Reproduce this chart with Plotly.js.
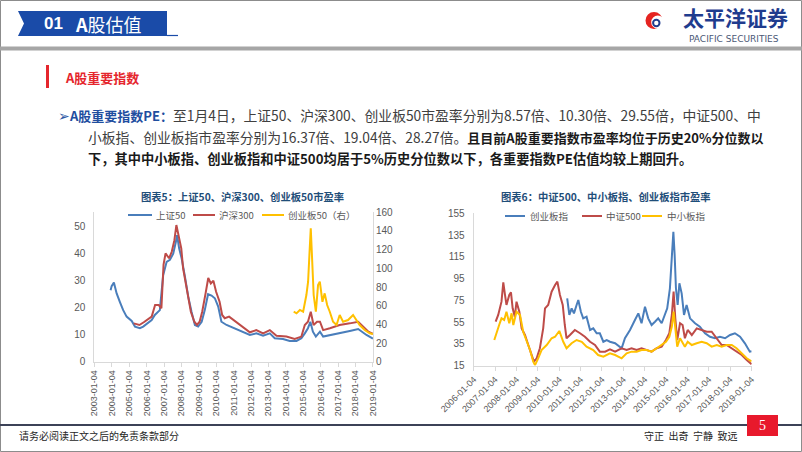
<!DOCTYPE html>
<html><head><meta charset="utf-8">
<script src="https://cdn.plot.ly/plotly-3.0.1.min.js"></script>
<style>html,body{margin:0;padding:0;background:#fff;overflow:hidden}</style>
</head><body><div id="chart" style="width:802px;height:452px"></div>
<script>
// ---------- Chart 5 data ----------
const sz50Dates = ['2003-12-10','2004-01-01','2004-02-17','2004-04-15','2004-06-25','2004-08-30','2004-11-10','2005-02-25','2005-05-05','2005-08-15','2005-10-24','2006-01-01','2006-04-20','2006-06-25','2006-10-08','2006-12-17','2007-02-28','2007-05-08','2007-07-16','2007-09-10','2007-10-05','2007-11-17','2008-01-08','2008-03-18','2008-05-27','2008-08-03','2008-10-13','2008-12-20','2009-03-04','2009-05-08','2009-07-16','2009-09-27','2009-12-05','2010-02-14','2010-04-22','2010-08-08','2010-12-25','2011-05-10','2011-12-10','2012-04-25','2012-09-12','2013-02-01','2013-05-15','2013-11-05','2014-03-25','2014-08-15','2014-11-25','2015-02-05','2015-04-12','2015-06-02','2015-07-25','2015-09-25','2015-12-20','2016-02-25','2016-07-15','2017-02-05','2017-09-06','2018-03-01','2018-05-08','2018-08-22','2019-01-04'];
const sz50PE = [26.5,28.0,29.3,25.3,22.0,19.1,16.7,15.1,13.0,12.4,13.0,13.8,15.4,17.3,19.1,32.0,37.0,37.7,40.0,44.4,46.9,42.0,38.3,31.5,24.0,18.5,13.6,13.0,14.8,19.1,25.0,24.5,23.5,20.4,14.8,13.6,12.6,11.7,9.9,10.5,9.6,10.5,8.7,8.4,7.7,7.7,8.7,10.5,12.4,14.8,11.1,9.3,11.1,9.3,9.9,10.5,11.4,12.1,11.1,9.9,8.57];

const hs300Dates = ['2005-04-08','2005-08-05','2005-11-05','2006-02-05','2006-04-20','2006-07-01','2006-09-15','2006-11-10','2006-12-25','2007-02-05','2007-04-20','2007-06-15','2007-08-10','2007-09-20','2007-10-12','2007-11-25','2008-01-01','2008-02-08','2008-04-01','2008-05-25','2008-07-20','2008-10-01','2008-11-25','2009-01-20','2009-03-15','2009-05-25','2009-07-20','2009-09-12','2009-11-05','2010-01-01','2010-03-15','2010-05-08','2010-07-01','2010-10-01','2011-01-01','2011-05-10','2011-12-10','2012-04-25','2012-09-12','2013-02-01','2013-06-20','2014-01-15','2014-07-08','2014-11-25','2015-02-05','2015-04-12','2015-06-10','2015-08-08','2015-10-20','2015-12-20','2016-02-25','2016-07-15','2017-02-05','2017-09-06','2018-03-01','2018-06-15','2018-10-01','2019-01-04'];
const hs300PE = [14.2,13.6,14.6,15.6,16.7,21.0,21.0,19.8,36.0,40.1,38.3,40.7,45.0,50.6,48.8,44.4,42.0,34.6,29.6,23.5,18.5,14.8,13.6,14.8,18.5,25.3,31.0,29.0,30.0,25.9,22.2,17.3,16.1,16.7,15.4,13.6,10.9,11.7,10.5,11.7,9.6,9.3,8.4,9.3,13.6,14.8,18.5,13.6,14.8,14.8,11.7,12.4,13.6,14.2,14.8,13.0,11.1,10.30];

const cyb50Dates = ['2014-06-17','2014-08-15','2014-10-24','2015-01-01','2015-03-10','2015-04-15','2015-05-19','2015-06-10','2015-07-05','2015-08-10','2015-09-25','2015-11-10','2015-12-17','2016-02-10','2016-03-28','2016-05-19','2016-07-13','2016-09-20','2016-12-02','2017-02-06','2017-04-18','2017-07-31','2017-11-14','2018-01-23','2018-04-01','2018-07-16','2018-10-30','2019-01-04'];
const cyb50PE = [53.5,51.8,55.4,53.5,71.4,85.7,121,142.8,114,71.4,53.5,82,85.7,64.2,73.2,60.7,53.5,42.8,39.3,50,42.8,44.6,50,44.6,39.3,33.9,30.4,29.55];

// ---------- Chart 6 data ----------
const cybzDates = ['2010-05-19','2010-06-25','2010-08-03','2010-09-12','2010-10-27','2010-11-25','2011-01-08','2011-02-17','2011-04-15','2011-06-14','2011-08-08','2011-10-05','2011-11-28','2012-01-27','2012-03-25','2012-05-19','2012-08-15','2012-12-05','2013-01-30','2013-04-27','2013-07-20','2013-09-16','2013-11-10','2014-01-08','2014-03-04','2014-05-01','2014-06-28','2014-08-22','2014-10-20','2014-12-17','2015-01-23','2015-03-10','2015-04-12','2015-05-08','2015-05-30','2015-06-21','2015-07-20','2015-08-19','2015-09-27','2015-11-06','2015-12-20','2016-02-17','2016-05-12','2016-08-03','2016-10-30','2017-01-23','2017-04-18','2017-07-13','2017-10-08','2018-01-01','2018-03-25','2018-06-21','2018-09-12','2018-12-05','2019-01-04'];
const cybzPE = [76.9,61.6,67.7,63.1,70.8,75.4,64.6,58.5,60,47.8,49.3,44.8,44.8,37,38.6,37,35.6,31,40.2,47.8,57,63.1,54,69.2,58.5,52.4,55.4,58.5,54,61.6,67.7,86.1,116.7,138,116.7,86.1,70.8,90.7,81.5,61.6,70.8,58.5,54,50.9,44.8,41.6,40.2,41.6,40.2,43.2,44.8,41.6,35.6,27.9,28.27];

const zz500Dates = ['2007-01-12','2007-02-25','2007-04-22','2007-05-23','2007-06-21','2007-07-16','2007-09-02','2007-10-01','2007-10-30','2007-12-05','2008-01-04','2008-02-21','2008-04-01','2008-05-27','2008-07-23','2008-09-20','2008-10-27','2008-12-13','2009-02-06','2009-04-04','2009-05-05','2009-06-28','2009-08-26','2009-10-24','2009-12-02','2010-01-15','2010-03-04','2010-04-08','2010-05-08','2010-07-05','2010-09-27','2010-12-25','2011-03-18','2011-06-14','2011-09-06','2011-11-28','2012-02-25','2012-05-19','2012-08-15','2012-12-05','2013-02-28','2013-05-23','2013-08-19','2013-11-10','2014-02-06','2014-05-01','2014-07-27','2014-10-20','2015-01-01','2015-02-28','2015-04-12','2015-05-12','2015-06-10','2015-07-13','2015-08-30','2015-10-13','2015-11-21','2016-01-08','2016-03-18','2016-06-10','2016-09-02','2016-11-28','2017-02-21','2017-05-19','2017-08-11','2017-11-03','2018-01-30','2018-04-22','2018-07-20','2018-10-13','2019-01-04'];
const zz500PE = [55.4,61.6,73.8,91.6,80,70.8,80,82.4,67.7,60,73.8,64.6,49.3,43.2,34,23.3,18.7,21.8,31,49.3,67.7,70.8,83,89.1,92.2,80,70.8,52.4,40.2,43.2,47.8,44.8,41.6,37,34,27.9,27.9,30,27.9,31,29.4,31,29.4,31,29.4,27.9,31,32.5,38.6,44.8,61.6,83,58.5,38.6,54,52.4,40.2,47.8,43.2,49.3,47.8,46.2,46.2,40.2,34,34,31,27.9,24.8,20.2,16.37];

const zxbDates = ['2006-12-20','2007-01-30','2007-03-13','2007-04-22','2007-06-07','2007-07-16','2007-09-02','2007-10-12','2007-11-10','2008-01-04','2008-03-04','2008-04-27','2008-06-25','2008-08-22','2008-10-16','2008-11-15','2009-01-08','2009-03-07','2009-06-03','2009-08-26','2009-10-24','2010-01-04','2010-03-13','2010-05-08','2010-08-03','2010-10-27','2011-01-23','2011-04-15','2011-08-08','2011-10-30','2012-01-27','2012-05-19','2012-08-15','2012-12-05','2013-02-28','2013-05-23','2013-08-19','2013-11-10','2014-02-06','2014-05-01','2014-07-27','2014-10-20','2015-01-01','2015-02-28','2015-04-12','2015-05-12','2015-06-10','2015-07-13','2015-08-30','2015-10-13','2015-11-21','2016-01-08','2016-03-18','2016-06-10','2016-09-02','2016-11-28','2017-02-21','2017-05-19','2017-08-11','2017-11-03','2018-01-30','2018-04-22','2018-07-20','2018-10-13','2019-01-04'];
const zxbPE = [38.6,46.2,52.4,58.5,57,64.6,54,63.1,52.4,64.6,61.6,46.2,38.6,29.4,18.7,15.6,21.8,29.4,34,40.2,41.6,46.9,37,31,35.6,38.6,37,32.5,29.4,24.8,23.3,26.3,24.8,21.8,26.3,27.9,27.9,29.4,29.4,27.9,31,34,37,41.6,50.9,64.6,49.3,32.5,40.2,35.6,32.5,37,34,35.6,37,35.6,32.5,34,32.5,34,34,31,26.3,21.8,19.04];

// ---------- series names and tick labels ----------
const names5 = ['上证50', '沪深300', '创业板50（右）'];
const names6 = ['创业板指', '中证500', '中小板指'];
const ticks5 = ['2003-01-04','2004-01-04','2005-01-04','2006-01-04','2007-01-04','2008-01-04','2009-01-04','2010-01-04','2011-01-04','2012-01-04','2013-01-04','2014-01-04','2015-01-04','2016-01-04','2017-01-04','2018-01-04','2019-01-04'];
const ticks6 = ['2006-01-04','2007-01-04','2008-01-04','2009-01-04','2010-01-04','2011-01-04','2012-01-04','2013-01-04','2014-01-04','2015-01-04','2016-01-04','2017-01-04','2018-01-04','2019-01-04'];
const leftTicks5 = [0,10,20,30,40,50];
const rightTicks5 = [0,20,40,60,80,100,120,140,160];
const ticks6y = [15,35,55,75,95,115,135,155];

// ---------- helpers for slide positioning ----------
const W = 802, H = 452;
const X = p => p / W;
const Y = p => 1 - p / H;
const BLUE = '#4A7EBB', RED = '#BE4B48', GOLD = '#FFC000';
const CJK = '"Noto Sans CJK SC", "Microsoft YaHei", sans-serif';
const LAT = '"Liberation Sans", Arial, sans-serif';

const traces = [
  {x: sz50Dates, y: sz50PE, name: names5[0], type: 'scatter', mode: 'lines', line: {color: BLUE, width: 2}, xaxis: 'x', yaxis: 'y'},
  {x: hs300Dates, y: hs300PE, name: names5[1], type: 'scatter', mode: 'lines', line: {color: RED, width: 2}, xaxis: 'x', yaxis: 'y'},
  {x: cyb50Dates, y: cyb50PE, name: names5[2], type: 'scatter', mode: 'lines', line: {color: GOLD, width: 2}, xaxis: 'x', yaxis: 'y2'},
  {x: cybzDates, y: cybzPE, name: names6[0], type: 'scatter', mode: 'lines', line: {color: BLUE, width: 2}, xaxis: 'x2', yaxis: 'y3'},
  {x: zz500Dates, y: zz500PE, name: names6[1], type: 'scatter', mode: 'lines', line: {color: RED, width: 2}, xaxis: 'x2', yaxis: 'y3'},
  {x: zxbDates, y: zxbPE, name: names6[2], type: 'scatter', mode: 'lines', line: {color: GOLD, width: 2}, xaxis: 'x2', yaxis: 'y3'}
];

const tickFont = {family: LAT, size: 9, color: '#595959'};
const AX = '#D9D9D9';

function pathFrom(pts) {
  return 'M' + pts.map(p => X(p[0]).toFixed(5) + ',' + Y(p[1]).toFixed(5)).join(' L') + ' Z';
}
function rect(x0, y0, x1, y1, fill, line) {
  return {type: 'rect', xref: 'paper', yref: 'paper', x0: X(x0), x1: X(x1), y0: Y(y1), y1: Y(y0),
          fillcolor: fill, line: line || {width: 0}};
}
function circ(cx, cy, r, fill, line) {
  return {type: 'circle', xref: 'paper', yref: 'paper', x0: X(cx - r), x1: X(cx + r), y0: Y(cy + r), y1: Y(cy - r),
          fillcolor: fill, line: line || {width: 0}};
}
function hline(x0, x1, y, color, w) {
  return {type: 'line', xref: 'paper', yref: 'paper', x0: X(x0), x1: X(x1), y0: Y(y), y1: Y(y), line: {color: color, width: w}};
}
function ann(x, y, text, size, color, anchor, family) {
  return {xref: 'paper', yref: 'paper', x: X(x), y: Y(y), text: text, showarrow: false,
          xanchor: anchor || 'left', yanchor: 'middle', font: {family: family || CJK, size: size, color: color}};
}

const shapes = [
  {type: 'rect', xref: 'paper', yref: 'paper', x0: X(0.5), x1: X(801.5), y0: Y(451.5), y1: Y(0.5), line: {color: '#8C8C8C', width: 1}},
  {type: 'path', xref: 'paper', yref: 'paper', path: pathFrom([[18,11],[167,11],[167,36],[18,36],[24,23.5]]), fillcolor: '#1A4BA8', line: {width: 0}},
  hline(167, 178, 35.5, '#1A4BA8', 1.2),
  rect(0, 46.5, 802, 50.5, '#A6A6A6'),
  rect(46, 65, 49, 88, '#E5262D'),
  hline(0, 802, 425, '#3C4257', 2),
  rect(747, 415, 778, 436, '#E8192C'),
  // logo
  circ(654, 20.5, 8.5, '#E52421'),
  circ(657.8, 22.2, 6.6, '#FFFFFF'),
  circ(656.3, 23, 3.2, 'rgba(0,0,0,0)', {color: '#1F3C8E', width: 2}),
  // hand-placed legend samples
  hline(128, 152, 215, BLUE, 2), hline(193, 215, 215, RED, 2), hline(262, 284, 215, GOLD, 2),
  hline(505, 525, 216, BLUE, 2), hline(582, 602, 216, RED, 2), hline(642, 662, 216, GOLD, 2)
];

const legFont = 9.5, legColor = '#595959';
const NB = 'font-size:13px';
const annotations = [
  ann(42, 23.5, '<b>01</b>', 17, '#FFFFFF', 'left', LAT),
  ann(73, 23.5, '<b>A</b>股估值', 18, '#FFFFFF'),
  ann(735, 17, '<b>太平洋证券</b>', 21, '#1F3C8E', 'center'),
  ann(733.5, 38.5, 'PACIFIC SECURITIES', 9, '#4A5775', 'center', '"DejaVu Sans", sans-serif'),
  ann(63, 77, '<b>A股重要指数</b>', 13, '#E5262D'),
  ann(56, 115, '<span style="color:#2E58A6">➢</span><b><span style="color:#1F4E9F;' + NB + '">A股重要指数PE：</span></b>至1月4日，上证50、沪深300、创业板50市盈率分别为8.57倍、10.30倍、29.55倍，中证500、中', 13.8, '#404040'),
  ann(86, 137, '小板指、创业板指市盈率分别为16.37倍、19.04倍、28.27倍。<b><span style="color:#1A1A1A;' + NB + '">且目前A股重要指数市盈率均位于历史20%分位数以</span></b>', 13.8, '#404040'),
  ann(86, 158, '<b>下，其中中小板指、创业板指和中证500均居于5%历史分位数以下，各重要指数PE估值均较上期回升。</b>', 13.25, '#1A1A1A'),
  ann(242, 196, '<b>图表5：上证50、沪深300、创业板50市盈率</b>', 10.3, '#1F4E79', 'center'),
  ann(606, 196, '<b>图表6：中证500、中小板指、创业板指市盈率</b>', 10.3, '#1F4E79', 'center'),
  ann(154, 215, names5[0], legFont, legColor), ann(217, 215, names5[1], legFont, legColor), ann(286, 215, names5[2], legFont, legColor),
  ann(528, 216, names6[0], legFont, legColor), ann(604, 216, names6[1], legFont, legColor), ann(665, 216, names6[2], legFont, legColor),
  ann(17, 435, '请务必阅读正文之后的免责条款部分', 10, '#262626'),
  ann(642, 435, '守正  出奇  宁静  致远', 10, '#262626'),
  ann(762.5, 425.5, '5', 14, '#FFFFFF', 'center', '"Liberation Serif", serif')
];

const layout = {
  width: W, height: H,
  margin: {l: 0, r: 0, t: 0, b: 0, pad: 0},
  paper_bgcolor: '#FFFFFF', plot_bgcolor: '#FFFFFF',
  showlegend: false,
  xaxis: {domain: [X(94.3), X(373)], type: 'date', range: ['2003-01-02', '2019-01-06'], tickvals: ticks5, ticktext: ticks5,
          tickangle: -90, ticks: 'outside', ticklen: 4, tickcolor: AX, showline: true, linecolor: AX, linewidth: 1,
          showgrid: false, zeroline: false, tickfont: tickFont, anchor: 'y'},
  yaxis: {domain: [Y(361.7), Y(212.3)], range: [0, 55.33], tickvals: leftTicks5, showgrid: false, zeroline: false,
          showline: true, linecolor: AX, ticks: '', tickfont: {family: LAT, size: 10, color: '#595959'}, anchor: 'x', ticklabelstandoff: 6},
  yaxis2: {domain: [Y(361.7), Y(212.3)], range: [0, 160], tickvals: rightTicks5, overlaying: 'y', side: 'right', anchor: 'x',
           showgrid: false, zeroline: false, showline: true, linecolor: AX, ticks: '', tickfont: {family: LAT, size: 10, color: '#595959'}},
  xaxis2: {domain: [X(473.7), X(751.7)], type: 'date', range: ['2006-01-02', '2019-01-06'], tickvals: ticks6, ticktext: ticks6,
           tickangle: -45, ticks: 'outside', ticklen: 4, tickcolor: AX, showline: true, linecolor: AX, linewidth: 1,
           showgrid: false, zeroline: false, tickfont: tickFont, anchor: 'y3'},
  yaxis3: {domain: [Y(365.7), Y(213.3)], range: [15, 155], tickvals: ticks6y, showgrid: false, zeroline: false,
           showline: true, linecolor: AX, ticks: '', tickfont: {family: LAT, size: 10, color: '#595959'}, anchor: 'x2', ticklabelstandoff: 6},
  shapes: shapes,
  annotations: annotations
};

Plotly.newPlot('chart', traces, layout, {staticPlot: true, displayModeBar: false});
</script></body></html>
